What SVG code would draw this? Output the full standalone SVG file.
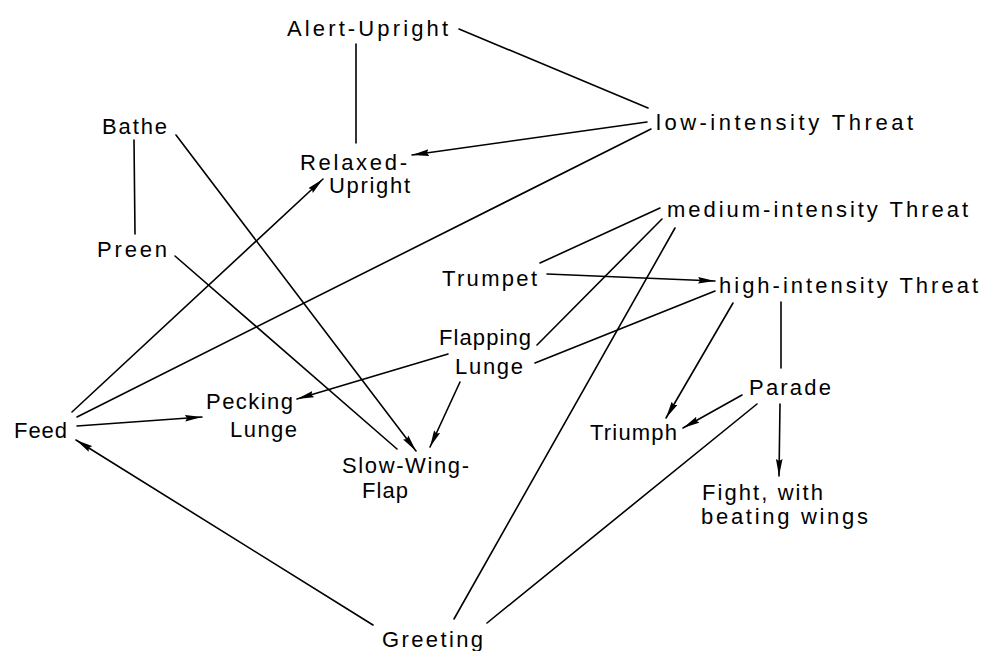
<svg xmlns="http://www.w3.org/2000/svg" width="983" height="651" viewBox="0 0 983 651">
  <style>
    .lbl { font-family: "Liberation Sans", Arial, sans-serif; font-size: 22px; fill: #000; }
    .edge { stroke: #000; stroke-width: 1.6; fill: none; stroke-linecap: round; }
    .arr { marker-end: url(#head); }
  </style>
  <defs>
    <marker id="head" markerUnits="userSpaceOnUse" markerWidth="20" markerHeight="8" refX="17" refY="4" orient="auto">
      <path d="M0,0.7 L17,4 L0,7.3 L2,4 z" fill="#000"/>
    </marker>
  </defs>
  <rect width="983" height="651" fill="#fff"/>

  <g id="connectors">
    <line class="edge" x1="459" y1="29" x2="648" y2="108"/>
    <line class="edge" x1="356" y1="44" x2="356" y2="143"/>
    <line class="edge arr" x1="647" y1="122" x2="412" y2="155"/>
    <line class="edge" x1="651" y1="129" x2="77" y2="417"/>
    <line class="edge arr" x1="72" y1="412" x2="323" y2="179"/>
    <line class="edge arr" x1="176" y1="135" x2="416" y2="451"/>
    <line class="edge" x1="134" y1="140" x2="135" y2="234"/>
    <line class="edge" x1="175" y1="256" x2="397" y2="449"/>
    <line class="edge arr" x1="77" y1="426" x2="202" y2="417"/>
    <line class="edge arr" x1="448" y1="354" x2="297" y2="399"/>
    <line class="edge arr" x1="460" y1="382" x2="430" y2="447"/>
    <line class="edge arr" x1="373" y1="625" x2="76" y2="440"/>
    <line class="edge" x1="454" y1="619" x2="675" y2="228"/>
    <line class="edge" x1="487" y1="623" x2="757" y2="404"/>
    <line class="edge" x1="660" y1="208" x2="540" y2="263"/>
    <line class="edge" x1="662" y1="219" x2="537" y2="345"/>
    <line class="edge arr" x1="547" y1="274" x2="715" y2="281"/>
    <line class="edge" x1="715" y1="291" x2="535" y2="363"/>
    <line class="edge arr" x1="733" y1="303" x2="666" y2="418"/>
    <line class="edge" x1="781" y1="302" x2="781" y2="368"/>
    <line class="edge arr" x1="742" y1="395" x2="683" y2="428"/>
    <line class="edge arr" x1="780" y1="404" x2="779" y2="476"/>
  </g>

  <g id="alert-upright"><text class="lbl" x="287" y="36" textLength="161" lengthAdjust="spacing">Alert-Upright</text></g>
  <g id="low-threat"><text class="lbl" x="656" y="130" textLength="257" lengthAdjust="spacing">low-intensity Threat</text></g>
  <g id="bathe"><text class="lbl" x="102" y="134" textLength="65" lengthAdjust="spacing">Bathe</text></g>
  <g id="relaxed-upright">
    <text class="lbl" x="300" y="170" textLength="107" lengthAdjust="spacing">Relaxed-</text>
    <text class="lbl" x="329" y="193" textLength="81" lengthAdjust="spacing">Upright</text>
  </g>
  <g id="preen"><text class="lbl" x="97" y="257" textLength="70" lengthAdjust="spacing">Preen</text></g>
  <g id="medium-threat"><text class="lbl" x="667" y="217" textLength="301" lengthAdjust="spacing">medium-intensity Threat</text></g>
  <g id="trumpet"><text class="lbl" x="442" y="286" textLength="95" lengthAdjust="spacing">Trumpet</text></g>
  <g id="high-threat"><text class="lbl" x="719" y="293" textLength="259" lengthAdjust="spacing">high-intensity Threat</text></g>
  <g id="flapping-lunge">
    <text class="lbl" x="439" y="345" textLength="92" lengthAdjust="spacing">Flapping</text>
    <text class="lbl" x="455" y="374" textLength="68" lengthAdjust="spacing">Lunge</text>
  </g>
  <g id="pecking-lunge">
    <text class="lbl" x="206" y="409" textLength="87" lengthAdjust="spacing">Pecking</text>
    <text class="lbl" x="230" y="437" textLength="67" lengthAdjust="spacing">Lunge</text>
  </g>
  <g id="feed"><text class="lbl" x="14" y="438" textLength="53" lengthAdjust="spacing">Feed</text></g>
  <g id="slow-wing-flap">
    <text class="lbl" x="342" y="473" textLength="127" lengthAdjust="spacing">Slow-Wing-</text>
    <text class="lbl" x="362" y="498" textLength="46" lengthAdjust="spacing">Flap</text>
  </g>
  <g id="parade"><text class="lbl" x="749" y="395" textLength="82" lengthAdjust="spacing">Parade</text></g>
  <g id="triumph"><text class="lbl" x="590" y="440" textLength="87" lengthAdjust="spacing">Triumph</text></g>
  <g id="fight">
    <text class="lbl" x="702" y="500" textLength="121" lengthAdjust="spacing">Fight, with</text>
    <text class="lbl" x="701" y="524" textLength="167" lengthAdjust="spacing">beating wings</text>
  </g>
  <g id="greeting"><text class="lbl" x="382" y="647" textLength="101" lengthAdjust="spacing">Greeting</text></g>
</svg>
